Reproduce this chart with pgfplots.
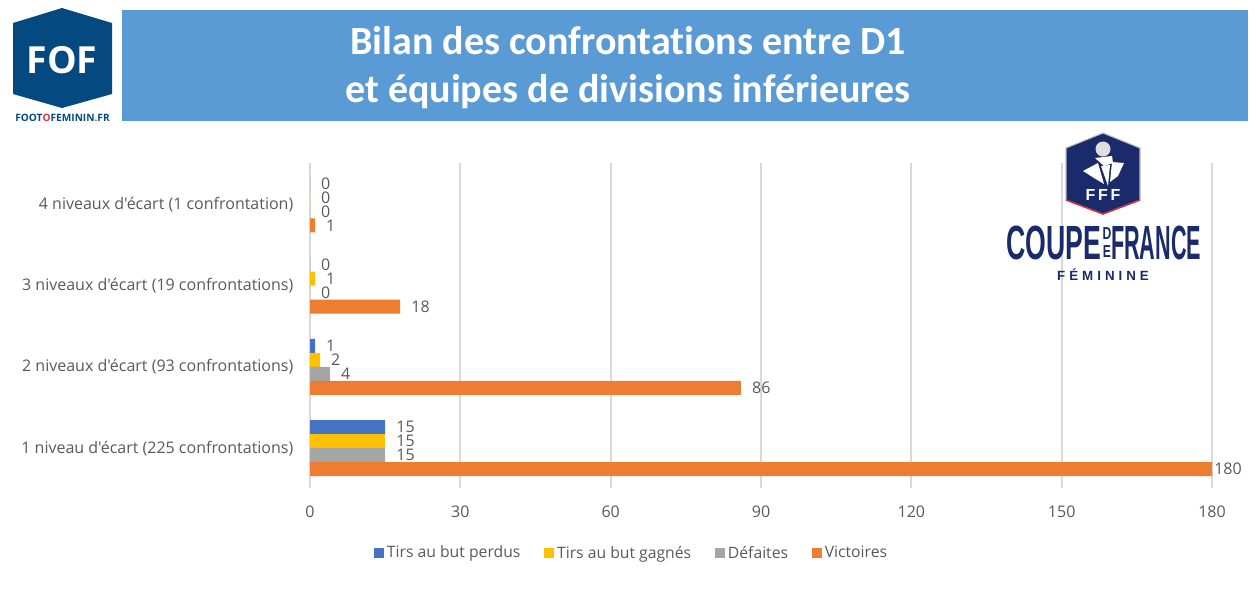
\documentclass[border=0pt]{standalone}
\usepackage{fontspec}
\usepackage{pgfplots}
\pgfplotsset{compat=1.18}
\setmainfont{Open Sans}[Ligatures=TeXOff]
\newfontfamily\titlefont{Carlito}[BoldFont={Carlito Bold},Ligatures=NoCommon]
\newfontfamily\narrowfont{Liberation Sans}
\definecolor{cBlue}{HTML}{4472C4}
\definecolor{cYellow}{HTML}{FFC000}
\definecolor{cGray}{HTML}{A5A5A5}
\definecolor{cOrange}{HTML}{ED7D31}
\definecolor{cText}{HTML}{595959}
\definecolor{cGrid}{HTML}{D9D9D9}
\definecolor{cBanner}{HTML}{5B9BD5}
\definecolor{cFof}{HTML}{044A80}
\definecolor{cFff}{HTML}{1B2A6B}
\definecolor{cRed}{HTML}{D0353F}
\begin{document}
\begin{tikzpicture}
% page = 1256 x 594 px, 1 px = 0.75pt
\path (0pt,0pt) rectangle (942pt,-445.5pt);
\begin{axis}[
    at={(232.5pt,-366pt)}, anchor=south west,
    scale only axis, width=676.5pt, height=243.75pt,
    xmin=0, xmax=180, ymin=-0.5, ymax=3.5,
    xbar=0pt, bar width=10.5pt,
    clip=false,
    axis line style={draw=none},
    xtick={0,30,...,180},
    ytick={0,1,2,3},
    yticklabels={1 niveau d'écart (225 confrontations),
                 2 niveaux d'écart (93 confrontations),
                 3 niveaux d'écart (19 confrontations),
                 4 niveaux d'écart (1 confrontation)},
    major tick length=0pt,
    xmajorgrids, grid style={cGrid, line width=1.5pt},
    tick label style={text=cText, font=\fontsize{12}{14}\selectfont},
    /pgf/number format/assume math mode=true,
    xticklabel style={yshift=-10.2pt},
    yticklabel style={xshift=-9pt, yshift=-0.75pt},
    nodes near coords,
    every node near coord/.append style={anchor=west, inner sep=0pt, xshift=8.2pt,
        text=cText, font=\fontsize{12}{14}\selectfont},
    legend style={at={(0.357,-0.2)}, anchor=center, draw=none, fill=none,
        legend columns=4, font=\fontsize{11.8}{14}\selectfont, text=cText,
        /tikz/every even column/.append style={column sep=16pt},
        inner sep=0pt},
    legend image code/.code={\path[#1,draw=none] (-2pt,-3.75pt) rectangle (5.5pt,3.75pt);},
]
\addplot[fill=cBlue, draw=none, bar shift=15.2pt]
    coordinates {(15,0) (1,1) (0,2) (0,3)};
\addplot[fill=cYellow, draw=none, bar shift=4.7pt]
    coordinates {(15,0) (2,1) (1,2) (0,3)};
\addplot[fill=cGray, draw=none, bar shift=-5.8pt]
    coordinates {(15,0) (4,1) (0,2) (0,3)};
\addplot[fill=cOrange, draw=none, bar shift=-16.3pt,
    coordinate style/.condition={x>=180}{xshift=-6.7pt}]
    coordinates {(180,0) (86,1) (18,2) (1,3)};
\legend{Tirs au but perdus, Tirs au but gagnés, Défaites, Victoires}
\end{axis}
\begin{scope}[x=0.75pt,y=-0.75pt]
% banner
\fill[cBanner] (122,10) rectangle (1248,121);
\node[text=white, font=\titlefont\bfseries\fontsize{30}{36}\selectfont, align=center]
    at (628,68) {Bilan des confrontations entre D1\\et équipes de divisions inférieures};
% FOF logo
\fill[cFof] (62,8) -- (112,23) -- (112,94) -- (62,108) -- (13,94) -- (13,23) -- cycle;
\node[text=white, font=\bfseries\fontsize{28}{30}\selectfont] at (62,60) {FOF};
\node[text=cFof, font=\bfseries\fontsize{7.6}{9}\selectfont, inner sep=0pt] at (62.5,118)
    {FOOT\textcolor{cRed}{O}FEMININ\textcolor{cRed}{.}FR};
% Coupe de France logo
\fill[cFff] (1103,133) -- (1140,148) -- (1140,200) -- (1103,214) -- (1066,200) -- (1066,148) -- cycle;
\draw[gray!50, line width=0.8pt] (1066,200) -- (1066,148) -- (1103,133) -- (1140,148) -- (1140,200);
\draw[cRed, line width=1.2pt] (1066,200) -- (1103,214) -- (1140,200);
\fill[gray!25] (1103,149) circle (7.5);
\fill[white] (1095,158) -- (1112,156) -- (1113,163) -- (1104,166) -- cycle;
\fill[white] (1083,171) -- (1098,163) -- (1104,184) -- (1094,178) -- cycle;
\fill[white] (1101,166) -- (1110,165) -- (1108,186) -- cycle;
\fill[white] (1112,162) -- (1124,163) -- (1118,176) -- (1110,182) -- cycle;
\node[text=white, font=\narrowfont\bfseries\fontsize{12}{14}\selectfont, inner sep=0pt] at (1103,195) {F\,F\,F};
\node[text=cFff, font=\narrowfont\bfseries\fontsize{36}{40}\selectfont, inner sep=0pt, xscale=0.555] at (1054,243) {COUPE};
\node[text=cFff, font=\narrowfont\bfseries\fontsize{13}{14}\selectfont, inner sep=0pt, xscale=0.7] at (1107,234) {D};
\node[text=cFff, font=\narrowfont\bfseries\fontsize{13}{14}\selectfont, inner sep=0pt, xscale=0.7] at (1107,252) {E};
\node[text=cFff, font=\narrowfont\bfseries\fontsize{36}{40}\selectfont, inner sep=0pt, xscale=0.45] at (1156,243) {FRANCE};
\node[text=cFff, font=\narrowfont\bfseries\fontsize{10}{12}\selectfont, inner sep=0pt] at (1103,275) {F\hspace{3pt}É\hspace{3pt}M\hspace{3pt}I\hspace{3pt}N\hspace{3pt}I\hspace{3pt}N\hspace{3pt}E};
\end{scope}
\end{tikzpicture}
\end{document}
